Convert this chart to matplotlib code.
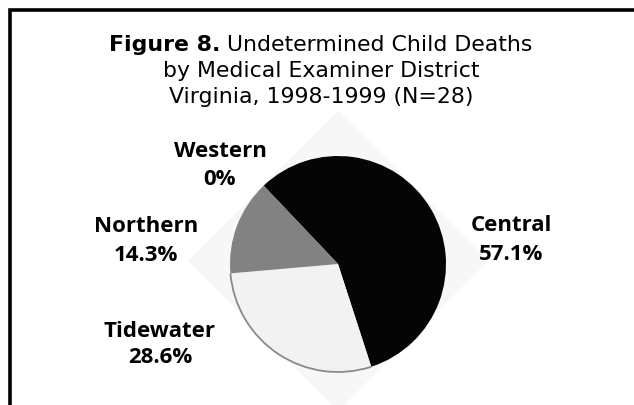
import matplotlib
matplotlib.use("Agg")
import matplotlib.pyplot as plt
from matplotlib.patches import Polygon, Arc

districts = ["Central", "Tidewater", "Northern", "Western"]
percents = [57.1, 28.6, 14.3, 0.0]
pct_labels = ["57.1%", "28.6%", "14.3%", "0%"]
colors = ["#050505", "#f2f2f2", "#828282", "#ffffff"]

W, H = 634, 406
fig = plt.figure(figsize=(W / 100, H / 100), dpi=100)
ax = fig.add_axes([0, 0, 1, 1])

TFONT = "DejaVu Sans"
LFONT = "Open Sans"

cx, cy, r = 338, 265, 108

# faint diamond background
d = 150
ax.add_patch(Polygon([(cx, cy - d - 3), (cx + d, cy - 3), (cx, cy + d - 3), (cx - d, cy - 3)],
                     closed=True, facecolor="#f7f7f7", edgecolor="none", zorder=0))

# y axis is inverted below, so the visual clockwise start at 133.5 deg
# becomes a counter-clockwise start at -133.5 deg in data space
wedges, _ = ax.pie(percents, colors=colors, startangle=-133.5, counterclock=True,
                   center=(cx, cy), radius=r, frame=True,
                   wedgeprops=dict(linewidth=0))
tw = wedges[1]
ax.add_patch(Arc((cx, cy), 2 * r, 2 * r, theta1=tw.theta1, theta2=tw.theta2,
                 color="#8a8a8a", lw=1.3, zorder=3))

ax.set_xlim(0, W)
ax.set_ylim(H, 0)
ax.set_aspect("equal")
ax.axis("off")

# border (left + top)
ax.plot([9.5, 9.5, W + 5], [H + 5, 10.5, 10.5], color="black", lw=2.6,
        solid_joinstyle="miter", zorder=5)

# title
fig.canvas.draw()
renderer = fig.canvas.get_renderer()
TS = 15.8
TX = 321
t1 = ax.text(0, 51, "Figure 8.", fontsize=TS, fontweight="bold", family=TFONT,
             ha="left", va="baseline")
t2 = ax.text(0, 51, " Undetermined Child Deaths", fontsize=TS, fontweight="normal",
             family=TFONT, ha="left", va="baseline")
w1 = t1.get_window_extent(renderer).width
w2 = t2.get_window_extent(renderer).width
x0 = TX - (w1 + w2) / 2
t1.set_x(x0)
t2.set_x(x0 + w1)
ax.text(TX, 77, "by Medical Examiner District", fontsize=TS, fontweight="normal",
        family=TFONT, ha="center", va="baseline")
ax.text(TX, 103, "Virginia, 1998-1999 (N=28)", fontsize=TS, fontweight="normal",
        family=TFONT, ha="center", va="baseline")

# label baselines (x center, baseline line1, baseline line2)
label_pos = {"Central": (511, 231, 260), "Tidewater": (160, 337, 363),
             "Northern": (146, 232, 261), "Western": (220, 157, 185)}
for name, pl in zip(districts, pct_labels):
    x, y1, y2 = label_pos[name]
    ax.text(x, y1, name, fontsize=16, fontweight="bold", family=LFONT,
            ha="center", va="baseline")
    ax.text(x, y2, pl, fontsize=16, fontweight="bold", family=LFONT,
            ha="center", va="baseline")

fig.savefig("out.png", dpi=100)
